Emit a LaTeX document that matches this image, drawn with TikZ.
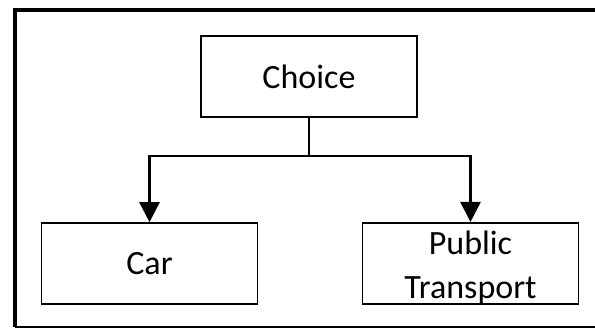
\documentclass[tikz,border=0pt]{standalone}
\usepackage{fontspec}
\setmainfont{Carlito}
\usetikzlibrary{arrows.meta}

\begin{document}
\begin{tikzpicture}[x=1pt, y=-1pt,
        box/.style={draw, line width=1.6pt, minimum width=216pt, minimum height=81pt, inner sep=0pt, align=center, font=\fontsize{34}{44}\selectfont},
        link/.style={line width=2.6pt},
        arr/.style={link, -{Triangle[length=20pt, width=20pt]}}]
            \useasboundingbox (0,0) rectangle (595,329);
            
            % 外框
            \draw[line width=4pt] (15.3,327) -- (15.3,10.3) -- (595,10.3);
            \draw[line width=1.8pt] (15.3,327) -- (595,327);
            
            % 方框
            \node[box] (choice) at (309,76.5) {Choice};
            \node[box] (car) at (149.5,263.5) {Car};
            \node[box] (pt) at (470.5,263.5) {\rule{0pt}{32pt}Public\\Transport};
            
            % 连线与箭头
            \coordinate (split) at (309,156);
            \draw[link] (choice) -- (split);
            \draw[arr] (split) -| (car);
            \draw[arr] (split) -| (pt);
        \end{tikzpicture}
\end{document}
